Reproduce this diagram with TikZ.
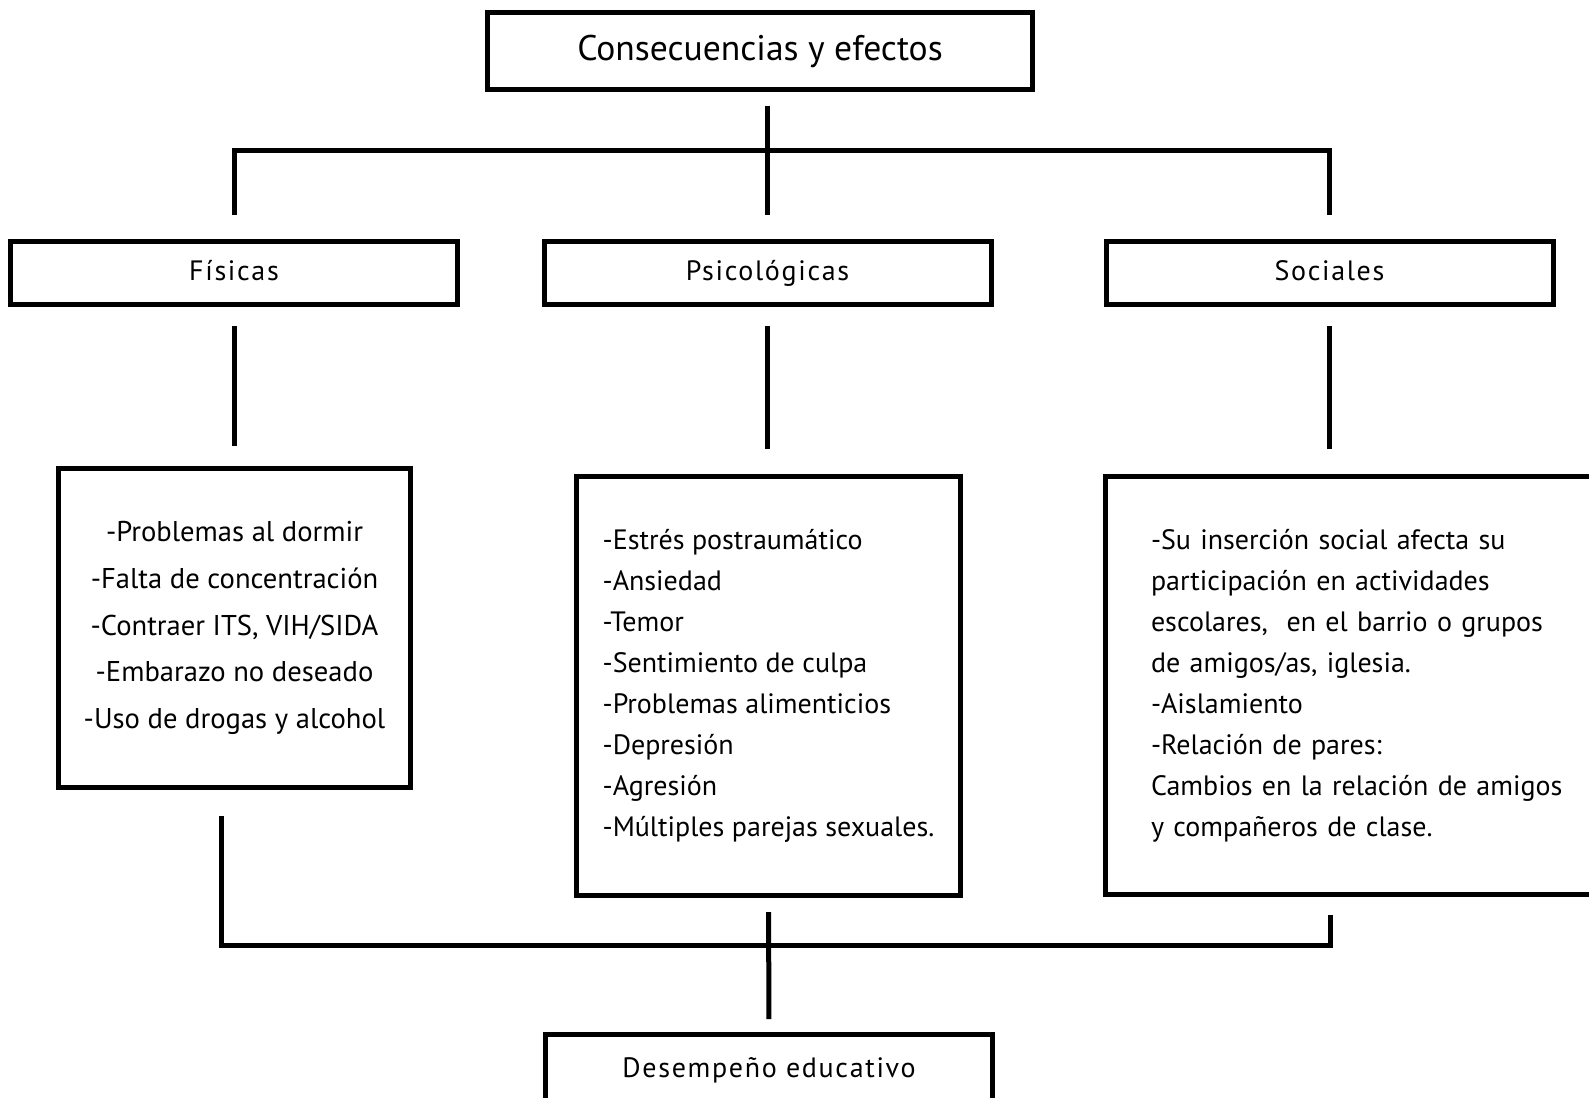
\documentclass[tikz,border=0pt]{standalone}
\usepackage{fontspec}
\setmainfont{PT Sans}
\newfontfamily\spacedfont[LetterSpace=6]{PT Sans}

\begin{document}
\begin{tikzpicture}[x=0.5pt,y=-0.5pt,
    box/.style={draw,line width=2.5pt,inner sep=0pt},
    head/.style={box,minimum width=223.5pt,minimum height=31.5pt,text height=10pt,text depth=3pt,font=\spacedfont\fontsize{14pt}{16pt}\selectfont},
    list/.style={box,align=left,font=\fontsize{14pt}{20.5pt}\selectfont},
    line/.style={line width=2.5pt}]
    \useasboundingbox (0,0) rectangle (1589,1097);
    \clip (0,0) rectangle (1589,1097);

    \node[box,minimum width=272.5pt,minimum height=38.5pt,font=\fontsize{17.8pt}{20pt}\selectfont] (top) at (760,51) {Consecuencias y efectos};
    \node[head] (fis) at (234,273) {Físicas};
    \node[head] (psi) at (767.5,273) {Psicológicas};
    \node[head] (soc) at (1329.5,273) {Sociales};
    \node[list,align=center,minimum width=176pt,minimum height=159.5pt,font=\fontsize{14.3pt}{23.3pt}\selectfont] (lfis) at (234.5,628)
        {-Problemas al dormir\\-Falta de concentración\\-Contraer ITS, VIH/SIDA\\-Embarazo no deseado\\-Uso de drogas y alcohol};
    \node[list,minimum width=192pt,minimum height=209.5pt] (lpsi) at (768.5,686)
        {-Estrés postraumático\\-Ansiedad\\-Temor\\-Sentimiento de culpa\\-Problemas alimenticios\\-Depresión\\-Agresión\\-Múltiples parejas sexuales.};
    \node[list,text width=222pt,inner xsep=23pt,minimum height=209pt] (lsoc) at (1373,685.5)
        {-Su inserción social afecta su\\participación en actividades\\escolares, \ en el barrio o grupos\\de amigos/as, iglesia.\\-Aislamiento\\-Relación de pares:\\Cambios en la relación de amigos\\y compañeros de clase.};
    \node[head,minimum height=35.5pt] (edu) at (769,1070) {Desempeño educativo};

    \coordinate (up) at (768,150);
    \draw[line,shorten <=7pt,shorten >=12pt] (psi.north |- top.south) -- (psi.north);
    \draw[line] ([yshift=12pt]fis.north) -- (fis.north |- up) -- (soc.north |- up) -- ([yshift=12pt]soc.north);
    \draw[line,shorten <=9.5pt,shorten >=10pt] (fis.south) -- (fis.south |- lfis.north);
    \draw[line,shorten <=9.5pt,shorten >=12.5pt] (psi.south) -- (psi.south |- lpsi.north);
    \draw[line,shorten <=9.5pt,shorten >=12.5pt] (soc.south) -- (soc.south |- lsoc.north);

    \coordinate (downL) at (221,945);
    \coordinate (downR) at (1330,945);
    \draw[line,shorten <=13pt,shorten >=9pt] (downL |- lfis.south) -- (downL) -- (downR) -- (downR |- lsoc.south);
    \draw[line,shorten <=7pt,shorten >=6.5pt] (lpsi.south) -- (edu.north);
\end{tikzpicture}
\end{document}
